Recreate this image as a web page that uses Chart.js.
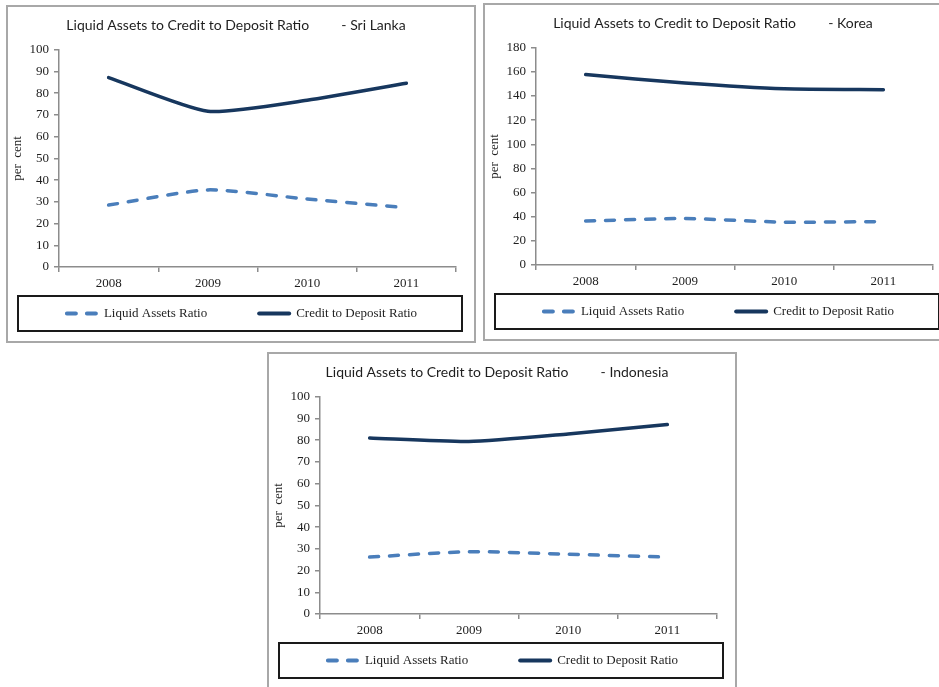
<!DOCTYPE html>
<html>
<head>
<meta charset="utf-8">
<script src="https://cdn.jsdelivr.net/npm/chart.js@4.4.1/dist/chart.umd.min.js"></script>
<style>
  html, body { margin: 0; padding: 0; background: #fff; width: 939px; height: 687px; overflow: hidden; position: relative; }
  .panel { position: absolute; border: 2px solid #a8a8a8; background: #fff; width: 466px; height: 334px; }
  .panel canvas { display: block; }
</style>
</head>
<body>
<div class="panel" style="left:6px; top:5px;"><canvas id="sriLanka" width="466" height="334"></canvas></div>
<div class="panel" style="left:483px; top:3px;"><canvas id="korea" width="466" height="334"></canvas></div>
<div class="panel" style="left:267px; top:352px;"><canvas id="indonesia" width="466" height="334"></canvas></div>

<script>
// Years on the category axis
const years = ['2008', '2009', '2010', '2011'];

// Series names
const liquidName = 'Liquid Assets Ratio';
const creditName = 'Credit to Deposit Ratio';
const chartHeading = 'Liquid Assets to Credit to Deposit Ratio';

// Per cent values by country
const sriLankaLiquid = [28.5, 35.5, 31.3, 27.3];
const sriLankaCredit = [87.2, 71.7, 76.8, 84.6];

const koreaLiquid = [36.5, 38.5, 35.5, 36.0];
const koreaCredit = [157.8, 150.8, 146.0, 145.3];

const indonesiaLiquid = [26.2, 28.7, 27.5, 26.2];
const indonesiaCredit = [81.0, 79.4, 82.9, 87.2];

// Value-axis ranges
const sriLankaTicks = { max: 100, step: 10 };
const koreaTicks = { max: 180, step: 20 };
const indonesiaTicks = { max: 100, step: 10 };

const serif = 'Liberation Serif, Times New Roman, serif';
const inkColor = '#1e1e1e';
const axisColor = '#8c8c8c';
const liquidColor = '#4a7ebb';
const creditColor = '#17375e';

Chart.defaults.font.family = serif;
Chart.defaults.font.size = 13;
Chart.defaults.color = inkColor;

// Legend drawn inside a framed box below the axis
const boxedLegend = {
  id: 'boxedLegend',
  afterDraw(chart, _args, o) {
    const ctx = chart.ctx;
    ctx.save();
    ctx.strokeStyle = o.frameColor;
    ctx.lineWidth = o.frameWidth;
    ctx.strokeRect(o.left, o.top, chart.width - o.left - o.right, o.height);

    ctx.font = o.font;
    const items = chart.data.datasets.map(ds => ({ ds, w: ctx.measureText(ds.label).width }));
    const total = items.reduce((s, it) => s + o.sample + o.textGap + it.w, 0) + o.itemGap * (items.length - 1);
    let x = (chart.width - total) / 2;
    const y = o.top + o.height / 2;
    items.forEach(({ ds, w }) => {
      const cap = o.sampleWidth / 2;
      ctx.beginPath();
      ctx.strokeStyle = ds.borderColor;
      ctx.lineWidth = o.sampleWidth;
      ctx.lineCap = 'round';
      ctx.setLineDash(ds.borderDash || []);
      ctx.moveTo(x + cap, y);
      ctx.lineTo(x + o.sample - cap, y);
      ctx.stroke();
      ctx.setLineDash([]);
      x += o.sample + o.textGap;
      ctx.fillStyle = o.color;
      ctx.textAlign = 'left';
      ctx.textBaseline = 'middle';
      ctx.fillText(ds.label, x, y);
      x += w + o.itemGap;
    });
    ctx.restore();
  }
};

function makeChart(canvasId, country, liquid, credit, range) {
  return new Chart(document.getElementById(canvasId), {
    type: 'line',
    data: {
      labels: years,
      datasets: [
        {
          label: liquidName,
          data: liquid,
          borderColor: liquidColor,
          borderWidth: 3.5,
          borderDash: [9, 11],
          borderCapStyle: 'round',
          tension: 0.2,
          pointRadius: 0,
          fill: false
        },
        {
          label: creditName,
          data: credit,
          borderColor: creditColor,
          borderWidth: 3.5,
          borderCapStyle: 'round',
          tension: 0.2,
          pointRadius: 0,
          fill: false
        }
      ]
    },
    options: {
      responsive: false,
      animation: false,
      devicePixelRatio: 1,
      layout: { padding: { left: 8, right: 18, top: 0, bottom: 48 } },
      plugins: {
        legend: { display: false },
        tooltip: { enabled: false },
        title: {
          display: true,
          text: chartHeading + '         - ' + country,
          color: inkColor,
          font: { family: 'Lato, Open Sans, sans-serif', size: 14, weight: 'normal' },
          padding: { top: 10, bottom: 16 }
        },
        boxedLegend: {
          left: 10, right: 12, top: 289, height: 35,
          frameColor: '#1a1a1a', frameWidth: 2,
          font: '13px ' + serif, color: inkColor,
          sample: 34, sampleWidth: 4, textGap: 5, itemGap: 50
        }
      },
      scales: {
        x: {
          type: 'category',
          offset: true,
          grid: { offset: true, drawOnChartArea: false, drawTicks: true, tickLength: 5, color: axisColor, lineWidth: 1.5 },
          border: { display: true, color: axisColor, width: 1.5 },
          ticks: { padding: 4, color: inkColor, font: { size: 13 } },
          afterFit(scale) { scale.height = 26; }
        },
        y: {
          min: 0,
          max: range.max,
          grid: { drawOnChartArea: false, drawTicks: true, tickLength: 5, color: axisColor, lineWidth: 1.5 },
          border: { display: true, color: axisColor, width: 1.5 },
          ticks: { stepSize: range.step, padding: 5, color: inkColor, font: { size: 13 } },
          title: { display: true, text: 'per  cent', color: inkColor, font: { size: 13 }, padding: { top: -6, bottom: 0 } },
          afterFit(scale) { scale.width = 43; }
        }
      }
    },
    plugins: [boxedLegend]
  });
}

makeChart('sriLanka', 'Sri Lanka', sriLankaLiquid, sriLankaCredit, sriLankaTicks);
makeChart('korea', 'Korea', koreaLiquid, koreaCredit, koreaTicks);
makeChart('indonesia', 'Indonesia', indonesiaLiquid, indonesiaCredit, indonesiaTicks);
</script>
</body>
</html>
